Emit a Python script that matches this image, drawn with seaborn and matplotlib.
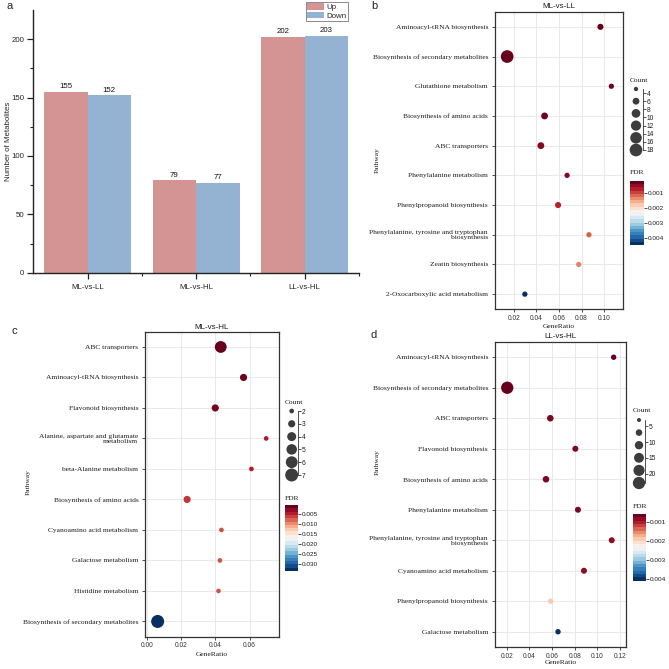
import numpy as np
import pandas as pd
import matplotlib
matplotlib.use('Agg')
import matplotlib.pyplot as plt
import seaborn as sns
from matplotlib.colors import Normalize
from matplotlib.cm import ScalarMappable

sns.set_theme(style='ticks')
plt.rcParams['font.family'] = ['Liberation Sans', 'DejaVu Sans']
SERIF = ['Liberation Serif', 'DejaVu Serif']

# ---------------- data ----------------
groups = ['ML-vs-LL', 'ML-vs-HL', 'LL-vs-HL']
up_counts = [155, 79, 202]
down_counts = [152, 77, 203]

b_pathways = ['Aminoacyl-tRNA biosynthesis', 'Biosynthesis of secondary metabolites',
              'Glutathione metabolism', 'Biosynthesis of amino acids', 'ABC transporters',
              'Phenylalanine metabolism', 'Phenylpropanoid biosynthesis',
              'Phenylalanine, tyrosine and tryptophan\nbiosynthesis', 'Zeatin biosynthesis',
              '2-Oxocarboxylic acid metabolism']
b_ratio = [0.0968, 0.0140, 0.1065, 0.0472, 0.0439, 0.0672, 0.0592, 0.0866, 0.0775, 0.0297]
b_count = [5, 20, 4, 6, 6, 4, 5, 4, 4, 4]
b_fdr = [0.00022, 0.00022, 0.0003, 0.0003, 0.0004, 0.0004, 0.0007, 0.0011, 0.0013, 0.0045]

c_pathways = ['ABC transporters', 'Aminoacyl-tRNA biosynthesis', 'Flavonoid biosynthesis',
              'Alanine, aspartate and glutamate\nmetabolism', 'beta-Alanine metabolism',
              'Biosynthesis of amino acids', 'Cyanoamino acid metabolism', 'Galactose metabolism',
              'Histidine metabolism', 'Biosynthesis of secondary metabolites']
c_ratio = [0.0432, 0.0565, 0.0400, 0.0697, 0.0611, 0.0236, 0.0436, 0.0427, 0.0419, 0.0064]
c_count = [6, 3, 3, 2, 2, 3, 2, 2, 2, 7]
c_fdr = [0.00035, 0.0006, 0.0009, 0.0036, 0.0038, 0.0050, 0.0063, 0.0063, 0.0065, 0.0334]

d_pathways = ['Aminoacyl-tRNA biosynthesis', 'Biosynthesis of secondary metabolites',
              'ABC transporters', 'Flavonoid biosynthesis', 'Biosynthesis of amino acids',
              'Phenylalanine metabolism', 'Phenylalanine, tyrosine and tryptophan\nbiosynthesis',
              'Cyanoamino acid metabolism', 'Phenylpropanoid biosynthesis', 'Galactose metabolism']
d_ratio = [0.1144, 0.0205, 0.0585, 0.0806, 0.0547, 0.0829, 0.1127, 0.0882, 0.0588, 0.0653]
d_count = [5, 24, 7, 6, 7, 6, 6, 6, 5, 5]
d_fdr = [0.0006, 0.0006, 0.0007, 0.0007, 0.0007, 0.0007, 0.0008, 0.0008, 0.0019, 0.0041]

# legend guide values
b_leg_vals = [3, 6, 9, 12, 15, 18]
b_leg_ticks = [4, 6, 8, 10, 12, 14, 16, 18]
c_leg_vals = [2, 3, 4, 5, 6, 7]
c_leg_ticks = [2, 3, 4, 5, 6, 7]
d_leg_vals = [3, 7, 11, 15, 19, 23]
d_leg_ticks = [5, 10, 15, 20]
b_cb_ticks = [0.001, 0.002, 0.003, 0.004]
c_cb_ticks = [0.005, 0.010, 0.015, 0.020, 0.025, 0.030]
d_cb_ticks = [0.001, 0.002, 0.003, 0.004]

UP_COLOR = '#D49494'
DOWN_COLOR = '#94B3D2'
CMAP = plt.get_cmap('RdBu')

W = 669.0
fig = plt.figure(figsize=(6.69, 6.69), dpi=100)


def frac(l, t, r, b):
    return [l / W, 1 - b / W, (r - l) / W, (b - t) / W]


def fx(x):
    return x / W


def fy(y):
    return 1 - y / W


# ---------------- panel a ----------------
ax_a = fig.add_axes(frac(33.3, 10, 359, 272.7))
df_a = pd.DataFrame({'group': groups * 2,
                     'count': up_counts + down_counts,
                     'dir': ['Up'] * 3 + ['Down'] * 3})
sns.barplot(data=df_a, x='group', y='count', hue='dir', palette=[UP_COLOR, DOWN_COLOR],
            saturation=1, width=0.8, ax=ax_a, linewidth=0, edgecolor='none')
for cont in ax_a.containers:
    ax_a.bar_label(cont, fontsize=5.7, padding=1, color='#111111')
ax_a.set_xlim(-0.5, 2.5)
ax_a.set_ylim(0, 225)
ax_a.set_yticks([0, 50, 100, 150, 200])
ax_a.set_yticks(np.arange(25, 225, 50), minor=True)
ax_a.set_xticks([0.5, 1.5, 2.5], minor=True)
ax_a.tick_params(axis='both', which='major', labelsize=5.7, length=4, width=0.9,
                 color='#222222', pad=2.5)
ax_a.tick_params(axis='both', which='minor', length=2, width=0.8, color='#222222')
ax_a.tick_params(axis='x', which='major', pad=4)
for side in ['top', 'right']:
    ax_a.spines[side].set_visible(False)
for side in ['left', 'bottom']:
    ax_a.spines[side].set_linewidth(1.0)
    ax_a.spines[side].set_color('#222222')
ax_a.set_xlabel('')
ax_a.set_ylabel('Number of Metabolites', fontsize=5.7)
ax_a.yaxis.set_label_coords(fx(12), fy(141), transform=fig.transFigure)
h, l = ax_a.get_legend_handles_labels()
ax_a.legend(h, l, loc='upper right', bbox_to_anchor=(fx(348), fy(2)),
            bbox_transform=fig.transFigure, fontsize=5.7, frameon=True, fancybox=False,
            edgecolor='#555555', borderpad=0.15, handlelength=2.2, handleheight=0.9,
            handletextpad=0.3, labelspacing=0.05, borderaxespad=0, title=None)
ax_a.get_legend().get_frame().set_linewidth(0.6)


# ---------------- dot plots ----------------
def dotplot(rect, pathways, ratio, count, fdr, title, xlim, xticks, cnorm, srange, fnorm,
            ylab_xy, xlab_y, title_y):
    ax = fig.add_axes(frac(*rect))
    df = pd.DataFrame({'Pathway': pathways, 'GeneRatio': ratio, 'Count': count, 'FDR': fdr})
    sns.scatterplot(data=df, x='GeneRatio', y='Pathway', size='Count', sizes=srange,
                    size_norm=cnorm, hue='FDR', palette=CMAP, hue_norm=fnorm,
                    linewidth=0, legend=False, ax=ax, zorder=3)
    ax.set_xlim(*xlim)
    ax.set_ylim(len(pathways) - 0.5, -0.5)
    ax.set_xticks(xticks)
    ax.set_xticklabels(['%.2f' % t for t in xticks])
    ax.grid(True, color='#E6E6E6', linewidth=0.6)
    ax.set_axisbelow(True)
    for sp in ax.spines.values():
        sp.set_color('#333333')
        sp.set_linewidth(0.9)
    ax.tick_params(axis='x', labelsize=4.8, length=2.5, width=0.6, color='#333333', pad=1.5,
                   labelcolor='#333333')
    ax.tick_params(axis='y', labelsize=5.4, length=2.5, width=0.6, color='#333333', pad=2.5,
                   labelcolor='#1a1a1a')
    for lbl in ax.get_yticklabels():
        lbl.set_fontfamily(SERIF)
        lbl.set_linespacing(0.95)
    ax.set_xlabel('')
    ax.set_ylabel('')
    cx = (rect[0] + rect[2]) / 2
    fig.text(fx(cx), fy(xlab_y), 'GeneRatio', family=SERIF, fontsize=5.4,
             ha='center', va='center', color='#1a1a1a')
    fig.text(fx(ylab_xy[0]), fy(ylab_xy[1]), 'Pathway', family=SERIF, fontsize=5.4,
             ha='center', va='center', rotation=90, color='#1a1a1a')
    fig.text(fx(cx), fy(title_y), title, fontsize=5.8, ha='center', va='center',
             color='#1a1a1a')
    return ax


def size_legend(title_xy, cx, bx, y_first, y_last, vals, ticks, cnorm, srange):
    fig.text(fx(title_xy[0]), fy(title_xy[1]), 'Count', family=SERIF, fontsize=5.4,
             ha='left', va='center', color='#1a1a1a')
    v0, v1 = vals[0], vals[-1]
    ppu = (y_last - y_first) / (v1 - v0)
    marg = 9.0
    top_px, bot_px = y_first - marg, y_last + marg
    left_px = cx - 10
    lax = fig.add_axes(frac(left_px, top_px, bx, bot_px))
    sns.scatterplot(x=[0.0] * len(vals), y=vals, size=vals, sizes=srange, size_norm=cnorm,
                    color='#3c3c3c', linewidth=0, legend=False, ax=lax, zorder=1)
    lax.set_xlim(-10, bx - cx)
    lax.set_ylim(v1 + marg / ppu, v0 - marg / ppu)
    lax.patch.set_alpha(0)
    for side in ['left', 'top', 'bottom']:
        lax.spines[side].set_visible(False)
    lax.spines['right'].set_bounds(v0, v1)
    lax.spines['right'].set_linewidth(0.6)
    lax.spines['right'].set_color('#333333')
    lax.set_xticks([])
    lax.yaxis.tick_right()
    lax.set_yticks(ticks)
    lax.set_yticklabels([str(t) for t in ticks])
    lax.tick_params(axis='y', direction='out', length=2, width=0.6, labelsize=4.8, pad=0.8,
                    color='#333333', labelcolor='#1a1a1a')
    lax.set_xlabel('')
    lax.set_ylabel('')


def fdr_bar(title_xy, rect, fnorm, ticks):
    fig.text(fx(title_xy[0]), fy(title_xy[1]), 'FDR', family=SERIF, fontsize=5.4,
             ha='left', va='center', color='#1a1a1a')
    cax = fig.add_axes(frac(*rect))
    sm = ScalarMappable(norm=Normalize(*fnorm), cmap=CMAP.resampled(20))
    cb = fig.colorbar(sm, cax=cax)
    cax.invert_yaxis()
    cb.set_ticks(ticks)
    cb.set_ticklabels(['%.3f' % t for t in ticks])
    cb.outline.set_visible(False)
    cax.tick_params(length=2, width=0.6, labelsize=4.6, pad=0.8, color='#333333',
                    labelcolor='#1a1a1a')


# panel b
b_cnorm, b_sr, b_fnorm = (3, 18), (9.6, 83.6), (0.00022, 0.0045)
dotplot((495, 12, 623.3, 309), b_pathways, b_ratio, b_count, b_fdr, 'ML-vs-LL',
        (0.0032, 0.1171), [0.02, 0.04, 0.06, 0.08, 0.10], b_cnorm, b_sr, b_fnorm,
        (377, 160), 326, 6.5)
size_legend((630, 80), 636, 643, 89, 150, b_leg_vals, b_leg_ticks, b_cnorm, b_sr)
fdr_bar((630, 173), (630, 181, 644, 245), b_fnorm, b_cb_ticks)

# panel c
c_cnorm, c_sr, c_fnorm = (2, 7), (11.4, 87.6), (0.00035, 0.0334)
dotplot((145.3, 331.7, 278.7, 636.7), c_pathways, c_ratio, c_count, c_fdr, 'ML-vs-HL',
        (-0.0008, 0.077), [0.00, 0.02, 0.04, 0.06], c_cnorm, c_sr, c_fnorm,
        (28, 482), 654, 327.5)
size_legend((285, 402), 291.7, 297.5, 411, 475, c_leg_vals, c_leg_ticks, c_cnorm, c_sr)
fdr_bar((285, 498), (285, 505, 298, 571), c_fnorm, c_cb_ticks)

# panel d
d_cnorm, d_sr, d_fnorm = (3, 23), (8.3, 78.4), (0.0006, 0.0041)
dotplot((495, 342, 626, 647), d_pathways, d_ratio, d_count, d_fdr, 'LL-vs-HL',
        (0.0097, 0.1253), [0.02, 0.04, 0.06, 0.08, 0.10, 0.12], d_cnorm, d_sr, d_fnorm,
        (377, 462), 663, 337)
size_legend((632.7, 411), 639, 645, 420, 483, d_leg_vals, d_leg_ticks, d_cnorm, d_sr)
fdr_bar((632.7, 506.7), (632.7, 514, 645.7, 580.7), d_fnorm, d_cb_ticks)

# panel letters
for letter, (x, y) in zip('abcd', [(10, 6), (374, 6), (14, 331), (374, 335)]):
    fig.text(fx(x), fy(y), letter, fontsize=8, ha='center', va='center', color='#222222')

fig.savefig('out.png', dpi=100)
